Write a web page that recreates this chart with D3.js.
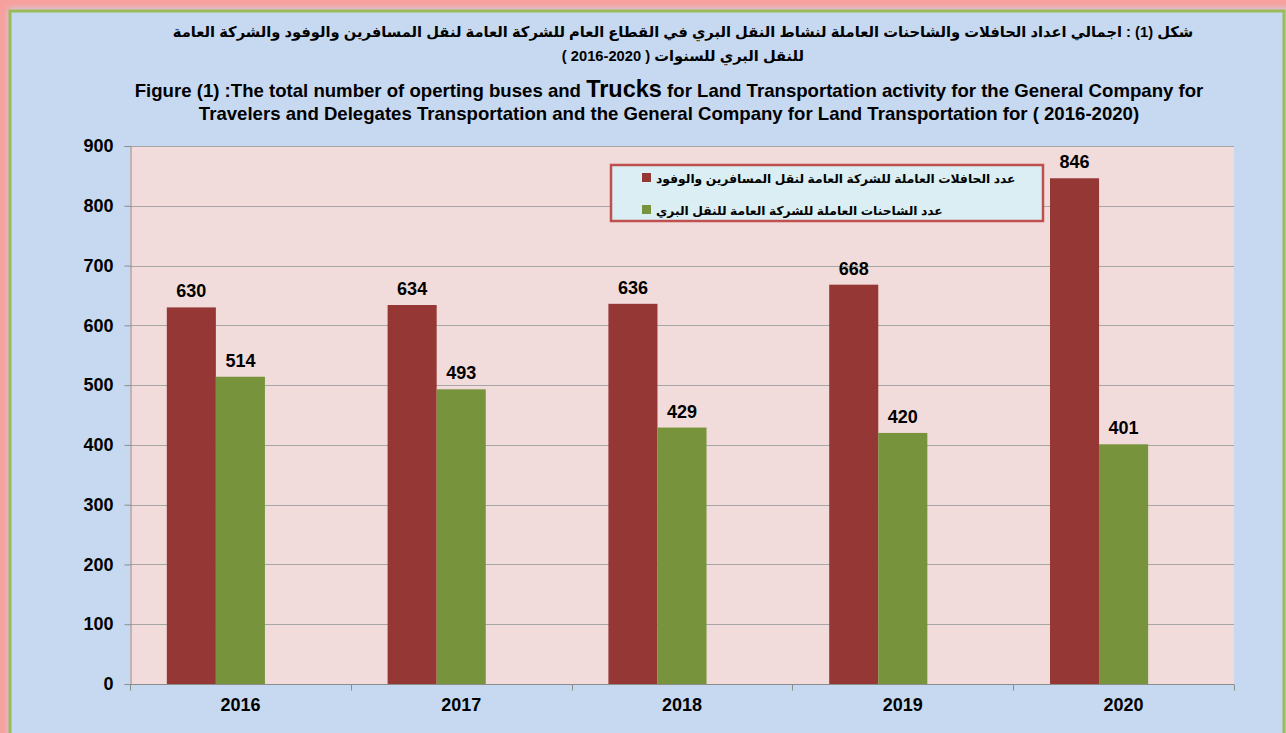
<!DOCTYPE html>
<html>
<head>
<meta charset="utf-8">
<script src="https://cdn.jsdelivr.net/npm/d3@7"></script>
<style>
  body { margin: 0; background: #C6D9F1; overflow: hidden; }
  svg { display: block; font-family: Arial, "Liberation Sans", "DejaVu Sans", sans-serif; }
</style>
</head>
<body>
<svg id="chart"></svg>
<script>
// data
var years = ["2016", "2017", "2018", "2019", "2020"];
var buses = [630, 634, 636, 668, 846];
var trucks = [514, 493, 429, 420, 401];
var seriesNames = [
  "عدد الحافلات العاملة للشركة العامة لنقل المسافرين والوفود",
  "عدد الشاحنات العاملة للشركة العامة للنقل البري"
];
var yTicks = [0, 100, 200, 300, 400, 500, 600, 700, 800, 900];

var width = 1286;
var height = 733;
var colors = ["#953735", "#77933C"];

var svg = d3.select("#chart").attr("width", width).attr("height", height);

// frame: pink glow top/left, green border
var defs = svg.append("defs");
var glow = defs.append("filter").attr("id", "glow").attr("x", "-5%").attr("y", "-5%").attr("width", "110%").attr("height", "110%");
glow.append("feGaussianBlur").attr("stdDeviation", 3);
svg.append("rect").attr("x", 0).attr("y", 0).attr("width", width).attr("height", height).attr("fill", "#C6D9F1");
svg.append("rect").attr("x", 1).attr("y", 1).attr("width", width + 20).attr("height", height + 20)
  .attr("fill", "none").attr("stroke", "#F6A09E").attr("stroke-width", 16).attr("filter", "url(#glow)");
svg.append("rect").attr("x", 10).attr("y", 11).attr("width", width - 12).attr("height", height + 20)
  .attr("fill", "#C6D9F1").attr("stroke", "#9BBB59").attr("stroke-width", 3);

// titles
var titles = svg.append("g").attr("font-weight", "bold").attr("fill", "#000");
titles.append("text").attr("x", 683).attr("y", 37).attr("text-anchor", "middle").attr("direction", "rtl")
  .attr("font-size", 14.7)
  .text("شكل (1) : اجمالي اعداد الحافلات والشاحنات العاملة لنشاط النقل البري في القطاع العام للشركة العامة لنقل المسافرين والوفود والشركة العامة");
titles.append("text").attr("x", 683).attr("y", 61).attr("text-anchor", "middle").attr("direction", "rtl")
  .attr("font-size", 14.7)
  .text("للنقل البري للسنوات ( 2020-2016 )");
var t1 = titles.append("text").attr("x", 669).attr("y", 97).attr("text-anchor", "middle").attr("font-size", 18.6);
t1.append("tspan").text("Figure (1) :The total number of operting buses and ");
t1.append("tspan").attr("font-size", 23.5).text("Trucks");
t1.append("tspan").text(" for Land Transportation activity for the General Company for");
titles.append("text").attr("x", 669).attr("y", 120).attr("text-anchor", "middle").attr("font-size", 18.6)
  .text("Travelers and Delegates Transportation and the General Company for Land Transportation for ( 2016-2020)");

// scales
var plotLeft = 130, plotRight = 1234, plotTop = 146, plotBottom = 684;
var x0 = d3.scaleBand().domain(years).range([plotLeft, plotRight]).paddingInner(1 / 3).paddingOuter(1 / 6);
// three slots per group, the third is empty as in the source chart
var x1 = d3.scaleBand().domain([0, 1, 2]).range([0, x0.bandwidth()]);
var y = d3.scaleLinear().domain([0, 900]).range([plotBottom, plotTop]);

svg.append("rect").attr("x", plotLeft).attr("y", plotTop).attr("width", plotRight - plotLeft)
  .attr("height", plotBottom - plotTop).attr("fill", "#F2DCDB");

// grid
svg.append("g").selectAll("line").data(yTicks.slice(1)).enter().append("line")
  .attr("x1", plotLeft).attr("x2", plotRight)
  .attr("y1", function (d) { return Math.round(y(d)) + 0.5; })
  .attr("y2", function (d) { return Math.round(y(d)) + 0.5; })
  .attr("stroke", "#A6A6A6").attr("stroke-width", 1);

// bars
var series = [buses, trucks];
series.forEach(function (vals, si) {
  var g = svg.append("g");
  g.selectAll("rect").data(vals).enter().append("rect")
    .attr("x", function (d, i) { return x0(years[i]) + x1(si); })
    .attr("y", function (d) { return y(d); })
    .attr("width", x1.bandwidth())
    .attr("height", function (d) { return y(0) - y(d); })
    .attr("fill", colors[si]);
  g.selectAll("text").data(vals).enter().append("text")
    .attr("x", function (d, i) { return x0(years[i]) + x1(si) + x1.bandwidth() / 2; })
    .attr("y", function (d) { return y(d) - 10; })
    .attr("text-anchor", "middle").attr("font-size", 18).attr("font-weight", "bold")
    .text(function (d) { return d; });
});

// axes
var yAxis = d3.axisLeft(y).tickValues(yTicks).tickSize(6).tickPadding(11);
var gy = svg.append("g").attr("transform", "translate(" + (plotLeft + 0.5) + ",0)").call(yAxis);
gy.select(".domain").attr("stroke", "#8C8C8C");
gy.selectAll(".tick line").attr("stroke", "#8C8C8C");
gy.selectAll(".tick text").attr("font-size", 18).attr("font-weight", "bold").attr("fill", "#000")
  .attr("font-family", "Arial, 'Liberation Sans', sans-serif");

var xAxis = d3.axisBottom(x0).tickSize(0).tickPadding(14);
var gx = svg.append("g").attr("transform", "translate(0," + (plotBottom + 0.5) + ")").call(xAxis);
gx.select(".domain").attr("stroke", "#8C8C8C").attr("d", "M" + plotLeft + ",0H" + plotRight);
gx.selectAll(".tick text").attr("font-size", 18).attr("font-weight", "bold").attr("fill", "#000")
  .attr("font-family", "Arial, 'Liberation Sans', sans-serif");
// category boundary ticks
gx.append("g").selectAll("line").data(years.concat(["end"])).enter().append("line")
  .attr("x1", function (d, i) { return Math.round(plotLeft + i * x0.step()) + 0.5; })
  .attr("x2", function (d, i) { return Math.round(plotLeft + i * x0.step()) + 0.5; })
  .attr("y1", 0).attr("y2", 6).attr("stroke", "#8C8C8C");

// legend
var lg = svg.append("g");
lg.append("rect").attr("x", 611).attr("y", 165).attr("width", 432).attr("height", 56)
  .attr("fill", "#DAEEF3").attr("stroke", "#C0504D").attr("stroke-width", 2.5);
seriesNames.forEach(function (name, i) {
  var ry = 178 + i * 32;
  lg.append("rect").attr("x", 642).attr("y", ry - 5).attr("width", 9).attr("height", 9).attr("fill", colors[i]);
  lg.append("text").attr("x", 656).attr("y", ry + 5).attr("text-anchor", "start")
    .attr("font-size", 12.3).attr("font-weight", "bold").text(name);
});
</script>
</body>
</html>
